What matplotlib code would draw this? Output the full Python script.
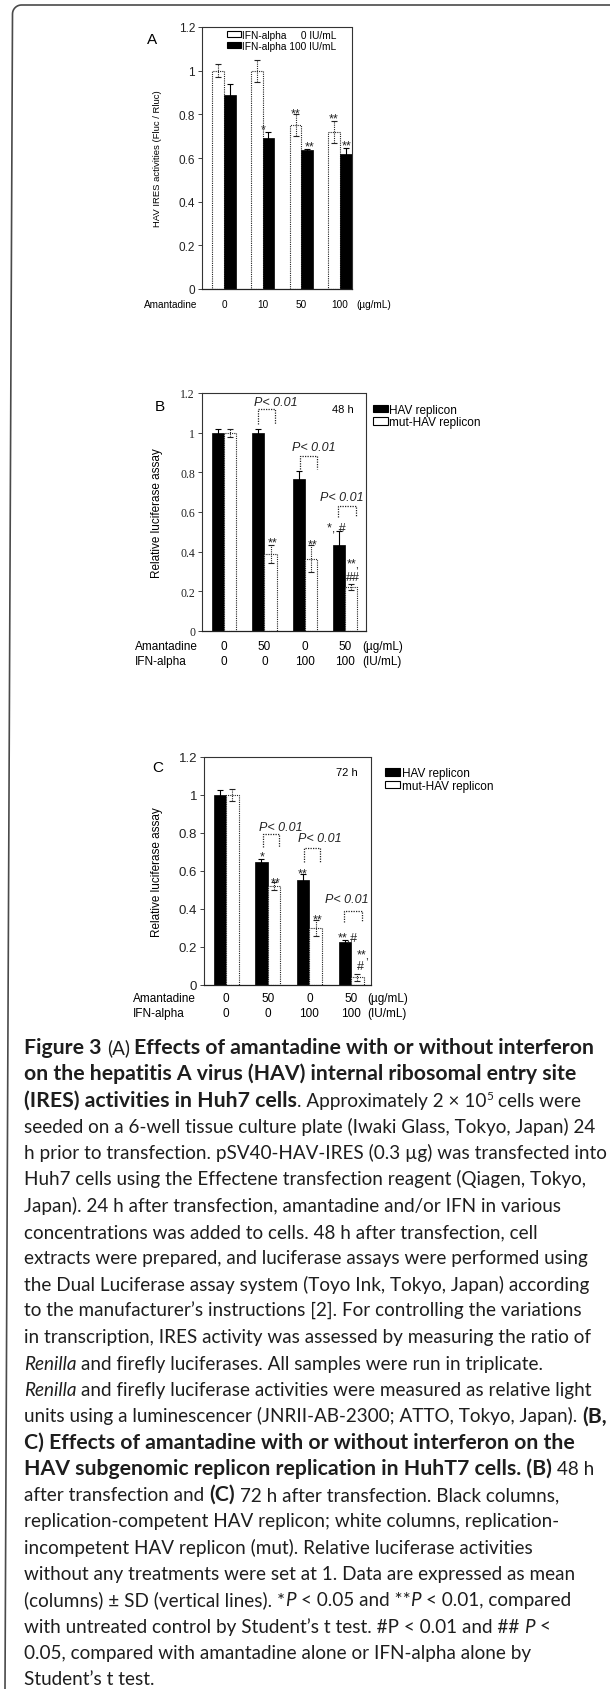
import matplotlib
matplotlib.use('Agg')
import matplotlib.pyplot as plt
from matplotlib.patches import Patch
from matplotlib.lines import Line2D
import numpy as np

plt.rcParams['font.family'] = ['Liberation Sans', 'DejaVu Sans']

W, H = 610, 1690

# ---------------- data ----------------
# Panel A
a_doses = ['0', '10', '50', '100']
a_ifn0 = [1.00, 1.00, 0.75, 0.72]
a_ifn0_sd = [0.03, 0.05, 0.05, 0.05]
a_ifn100 = [0.89, 0.69, 0.635, 0.62]
a_ifn100_sd = [0.05, 0.03, 0.006, 0.025]
a_legend = ['IFN-alpha     0 IU/mL', 'IFN-alpha 100 IU/mL']

# Panel B (48 h)
bc_amantadine = ['0', '50', '0', '50']
bc_ifn = ['0', '0', '100', '100']
b_hav = [1.0, 1.0, 0.765, 0.435]
b_hav_sd = [0.02, 0.02, 0.04, 0.07]
b_mut = [1.0, 0.39, 0.365, 0.22]
b_mut_sd = [0.02, 0.045, 0.07, 0.015]

# Panel C (72 h)
c_hav = [1.0, 0.645, 0.555, 0.225]
c_hav_sd = [0.025, 0.02, 0.03, 0.01]
c_mut = [1.0, 0.52, 0.30, 0.04]
c_mut_sd = [0.03, 0.02, 0.04, 0.02]

bc_legend = ['HAV replicon', 'mut-HAV replicon']
yticks = [0, 0.2, 0.4, 0.6, 0.8, 1.0, 1.2]
yticklabels = ['0', '0.2', '0.4', '0.6', '0.8', '1', '1.2']

fig = plt.figure(figsize=(W / 100, H / 100), dpi=100)
fig.patch.set_facecolor('white')


def px_axes(left, top, right, bottom):
    return fig.add_axes([left / W, 1 - bottom / H, (right - left) / W, (bottom - top) / H])


def style_axes(ax, xlim, tick_fs, tick_family):
    ax.set_xlim(*xlim)
    ax.set_ylim(0, 1.2)
    ax.set_xticks([])
    ax.set_yticks(yticks)
    ax.set_yticklabels(yticklabels, fontsize=tick_fs, family=tick_family)
    for s in ['top', 'right', 'left']:
        ax.spines[s].set_linestyle((0, (1, 1)))
        ax.spines[s].set_linewidth(0.8)
        ax.spines[s].set_color('#333333')
    ax.spines['bottom'].set_linewidth(0.9)
    ax.spines['bottom'].set_color('#222222')
    ax.tick_params(axis='y', direction='out', length=3, width=0.6, pad=2, colors='#222222')


def draw_series(ax, vals, sds, offset, filled, width=0.3):
    xs = np.arange(len(vals)) + offset
    if filled:
        ax.bar(xs, vals, width, color='black', edgecolor='black', lw=0.5, zorder=2)
        ax.errorbar(xs, vals, yerr=sds, fmt='none', ecolor='black', elinewidth=0.8,
                    capsize=2, capthick=0.8, zorder=3)
    else:
        ax.bar(xs, vals, width, facecolor='white', edgecolor='#222222', lw=0.8,
               linestyle=(0, (1, 1)), zorder=2)
        eb = ax.errorbar(xs, vals, yerr=sds, fmt='none', ecolor='#222222', elinewidth=0.8,
                         capsize=2, capthick=0.8, zorder=3)
        eb[2][0].set_linestyle((0, (1, 1)))


def bracket(ax, xl, xr, ytop, ybot, tx, ty, fs):
    ax.plot([xl, xl, xr, xr], [ybot, ytop, ytop, ybot], ls=(0, (1, 1)), color='#222222', lw=0.9)
    ax.text(tx, ty, 'P< 0.01', style='italic', ha='center', va='center', fontsize=fs, color='#222222')


def star(ax, x, y, s, fs=9):
    # y is the visual centre of the glyphs
    shift = 0.58 if '*' in s else 0.36
    ax.annotate(s, xy=(x, y), xytext=(0, -shift * fs), textcoords='offset points',
                ha='center', va='baseline', fontsize=fs, color='#222222')


white_h = Patch(facecolor='white', edgecolor='black', lw=0.8)
black_h = Patch(facecolor='black', edgecolor='black', lw=0.8)

# ---------------- Panel A ----------------
axA = px_axes(202, 28, 352, 290)
draw_series(axA, a_ifn0, a_ifn0_sd, -0.15, False)
draw_series(axA, a_ifn100, a_ifn100_sd, 0.15, True)
style_axes(axA, (-0.57, 3.31), 8.5, 'Liberation Sans')
axA.set_ylabel('HAV IRES activities (Fluc / Rluc)', fontsize=6.8)
axA.yaxis.set_label_coords(-0.27, 0.5)
axA.legend([white_h, black_h], a_legend, loc='upper left', bbox_to_anchor=(0.165, 0.99),
           frameon=False, fontsize=7.3, handlelength=1.4, handleheight=0.6, handletextpad=0.1,
           labelspacing=0.1, borderpad=0, borderaxespad=0)
trA = axA.get_xaxis_transform()
axA.text(-0.39, -0.057, 'Amantadine', transform=axA.transAxes, ha='left', va='center', fontsize=7.2)
for i, d in enumerate(a_doses):
    axA.text(i, -0.057, d, transform=trA, ha='center', va='center', fontsize=7.2)
axA.text(1.03, -0.057, '(µg/mL)', transform=axA.transAxes, ha='left', va='center', fontsize=7.2)
axA.text(-0.33, 0.954, 'A', transform=axA.transAxes, ha='center', va='center', fontsize=11)
star(axA, 1.02, 0.75, '*')
star(axA, 1.86, 0.825, '**')
star(axA, 2.21, 0.672, '**')
star(axA, 2.84, 0.80, '**')
star(axA, 3.18, 0.675, '**')

# ---------------- Panel B ----------------
axB = px_axes(202, 394, 366, 632)
draw_series(axB, b_hav, b_hav_sd, -0.15, True)
draw_series(axB, b_mut, b_mut_sd, 0.15, False)
style_axes(axB, (-0.55, 3.52), 8.5, 'Liberation Serif')
axB.set_ylabel('Relative luciferase assay', fontsize=8.5)
axB.yaxis.set_label_coords(-0.24, 0.5)
axB.legend([black_h, white_h], bc_legend, loc='upper left', bbox_to_anchor=(1.04, 0.955),
           frameon=False, fontsize=8.5, handlelength=1.3, handleheight=0.6, handletextpad=0.1,
           labelspacing=0.05, borderpad=0, borderaxespad=0)
trB = axB.get_xaxis_transform()
axB.text(-0.41, -0.063, 'Amantadine', transform=axB.transAxes, ha='left', va='center', fontsize=8.5)
axB.text(-0.41, -0.126, 'IFN-alpha', transform=axB.transAxes, ha='left', va='center', fontsize=8.5)
for i, (am, ifn) in enumerate(zip(bc_amantadine, bc_ifn)):
    axB.text(i, -0.063, am, transform=trB, ha='center', va='center', fontsize=8.5)
    axB.text(i, -0.126, ifn, transform=trB, ha='center', va='center', fontsize=8.5)
axB.text(0.98, -0.063, '(µg/mL)', transform=axB.transAxes, ha='left', va='center', fontsize=8.5)
axB.text(0.98, -0.126, '(IU/mL)', transform=axB.transAxes, ha='left', va='center', fontsize=8.5)
axB.text(-0.256, 0.945, 'B', transform=axB.transAxes, ha='center', va='center', fontsize=11)
axB.text(0.86, 1.12 / 1.2, '48 h', transform=axB.transAxes, ha='center', va='center', fontsize=8)
bracket(axB, 0.85, 1.27, 1.12, 1.044, 1.27, 1.155, 9)
bracket(axB, 1.88, 2.3, 0.883, 0.817, 2.22, 0.928, 9)
bracket(axB, 2.83, 3.27, 0.63, 0.575, 2.93, 0.675, 9)
star(axB, 1.2, 0.47, '**')
star(axB, 2.2, 0.46, '**')
star(axB, 2.78, 0.545, '*, #')
star(axB, 3.2, 0.36, '**,')
star(axB, 3.2, 0.28, '##')

# ---------------- Panel C ----------------
axC = px_axes(204, 758, 371, 986)
draw_series(axC, c_hav, c_hav_sd, -0.15, True)
draw_series(axC, c_mut, c_mut_sd, 0.15, False)
style_axes(axC, (-0.53, 3.48), 9.5, 'Liberation Sans')
axC.set_ylabel('Relative luciferase assay', fontsize=8.5)
axC.yaxis.set_label_coords(-0.245, 0.5)
axC.legend([black_h, white_h], bc_legend, loc='upper left', bbox_to_anchor=(1.084, 0.956),
           frameon=False, fontsize=8.5, handlelength=1.3, handleheight=0.6, handletextpad=0.1,
           labelspacing=0.05, borderpad=0, borderaxespad=0)
trC = axC.get_xaxis_transform()
axC.text(-0.425, -0.057, 'Amantadine', transform=axC.transAxes, ha='left', va='center', fontsize=8.5)
axC.text(-0.425, -0.123, 'IFN-alpha', transform=axC.transAxes, ha='left', va='center', fontsize=8.5)
for i, (am, ifn) in enumerate(zip(bc_amantadine, bc_ifn)):
    axC.text(i, -0.057, am, transform=trC, ha='center', va='center', fontsize=8.5)
    axC.text(i, -0.123, ifn, transform=trC, ha='center', va='center', fontsize=8.5)
axC.text(0.976, -0.057, '(µg/mL)', transform=axC.transAxes, ha='left', va='center', fontsize=8.5)
axC.text(0.976, -0.123, '(IU/mL)', transform=axC.transAxes, ha='left', va='center', fontsize=8.5)
axC.text(-0.275, 0.956, 'C', transform=axC.transAxes, ha='center', va='center', fontsize=11)
axC.text(0.856, 1.12 / 1.2, '72 h', transform=axC.transAxes, ha='center', va='center', fontsize=8)
bracket(axC, 0.88, 1.26, 0.795, 0.726, 1.32, 0.83, 9)
bracket(axC, 1.86, 2.26, 0.72, 0.647, 2.24, 0.774, 9)
bracket(axC, 2.83, 3.26, 0.39, 0.33, 2.9, 0.45, 9)
star(axC, 0.86, 0.70, '*')
star(axC, 1.19, 0.56, '**')
star(axC, 1.83, 0.61, '**')
star(axC, 2.19, 0.365, '**')
star(axC, 2.93, 0.272, '**,#')
star(axC, 3.29, 0.185, '**,')
star(axC, 3.22, 0.11, '#')

# ---------------- frame ----------------
t = np.linspace(np.pi, np.pi / 2, 12)
r = 9
cx, cy = 12.5 + r, 6 + r
arc_x = cx + r * np.cos(t)
arc_y = cy - r * np.sin(t)
fx = np.concatenate([[5], arc_x, [W]])
fy = np.concatenate([[H], arc_y, [6]])
fig.add_artist(Line2D(fx / W, 1 - fy / H, color='#4a4a4a', lw=1.2, transform=fig.transFigure))

# ---------------- caption ----------------
caption = [
    [('Figure 3 ', 'b'), ('(A) ', 'n'), ('Effects of amantadine with or without interferon', 'b')],
    [('on the hepatitis A virus (HAV) internal ribosomal entry site', 'b')],
    [('(IRES) activities in Huh7 cells', 'b'), ('. Approximately 2 × 10', 'n'), ('5', 's'), (' cells were', 'n')],
    [('seeded on a 6-well tissue culture plate (Iwaki Glass, Tokyo, Japan) 24', 'n')],
    [('h prior to transfection. pSV40-HAV-IRES (0.3 µg) was transfected into', 'n')],
    [('Huh7 cells using the Effectene transfection reagent (Qiagen, Tokyo,', 'n')],
    [('Japan). 24 h after transfection, amantadine and/or IFN in various', 'n')],
    [('concentrations was added to cells. 48 h after transfection, cell', 'n')],
    [('extracts were prepared, and luciferase assays were performed using', 'n')],
    [('the Dual Luciferase assay system (Toyo Ink, Tokyo, Japan) according', 'n')],
    [('to the manufacturer’s instructions [2]. For controlling the variations', 'n')],
    [('in transcription, IRES activity was assessed by measuring the ratio of', 'n')],
    [('Renilla', 'i'), (' and firefly luciferases. All samples were run in triplicate.', 'n')],
    [('Renilla', 'i'), (' and firefly luciferase activities were measured as relative light', 'n')],
    [('units using a luminescencer (JNRII-AB-2300; ATTO, Tokyo, Japan). ', 'n'), ('(B,', 'b')],
    [('C) Effects of amantadine with or without interferon on the', 'b')],
    [('HAV subgenomic replicon replication in HuhT7 cells. (B)', 'b'), (' 48 h', 'n')],
    [('after transfection and ', 'n'), ('(C)', 'b'), (' 72 h after transfection. Black columns,', 'n')],
    [('replication-competent HAV replicon; white columns, replication-', 'n')],
    [('incompetent HAV replicon (mut). Relative luciferase activities', 'n')],
    [('without any treatments were set at 1. Data are expressed as mean', 'n')],
    [('(columns) ± SD (vertical lines). *', 'n'), ('P', 'i'), (' < 0.05 and **', 'n'), ('P', 'i'),
     (' < 0.01, compared', 'n')],
    [('with untreated control by Student’s t test. #P < 0.01 and ## ', 'n'), ('P', 'i'), (' <', 'n')],
    [('0.05, compared with amantadine alone or IFN-alpha alone by', 'n')],
    [('Student’s t test.', 'n')],
]

renderer = fig.canvas.get_renderer()
CAP_FAMILY = ['Lato', 'DejaVu Sans']


def props(style, fs_n, fs_b):
    p = dict(family=CAP_FAMILY, fontsize=fs_n, color='#1e1e1e')
    if style == 'b':
        p['fontweight'] = 'bold'
        p['fontsize'] = fs_b
    elif style == 'i':
        p['fontstyle'] = 'italic'
    elif style == 's':
        p['fontsize'] = fs_n * 0.62
    return p


def text_w(s, p):
    if not s:
        return 0.0
    tt = fig.text(0, 0, s, **p)
    w = tt.get_window_extent(renderer).width
    tt.remove()
    return w


def seg_parts(s, p):
    core = s.strip(' ')
    lead = len(s) - len(s.lstrip(' '))
    trail = len(s) - len(s.rstrip(' '))
    sw = text_w('a a', p) - text_w('aa', p)
    return lead * sw, core, text_w(core, p), trail * sw


def line_width(line, fs_n, fs_b):
    tot = 0.0
    for s, st in line:
        p = props(st, fs_n, fs_b)
        a, core, w, b = seg_parts(s, p)
        tot += a + w + b
    return tot


base = 10.0
x0 = 24
fs_n = base * (596 - x0) / line_width(caption[3], base, base)
fs_b = base * (577 - x0) / line_width(caption[1], base, base)

y_first = 1054
dy = 26.3
for k, line in enumerate(caption):
    x = x0
    yb = y_first + k * dy
    for s, st in line:
        p = props(st, fs_n, fs_b)
        a, core, w, b = seg_parts(s, p)
        x += a
        yy = yb - (fs_n * 0.45 if st == 's' else 0)
        fig.text(x / W, 1 - yy / H, core, ha='left', va='baseline', **p)
        x += w + b

fig.savefig('out.png', dpi=100, facecolor='white')
